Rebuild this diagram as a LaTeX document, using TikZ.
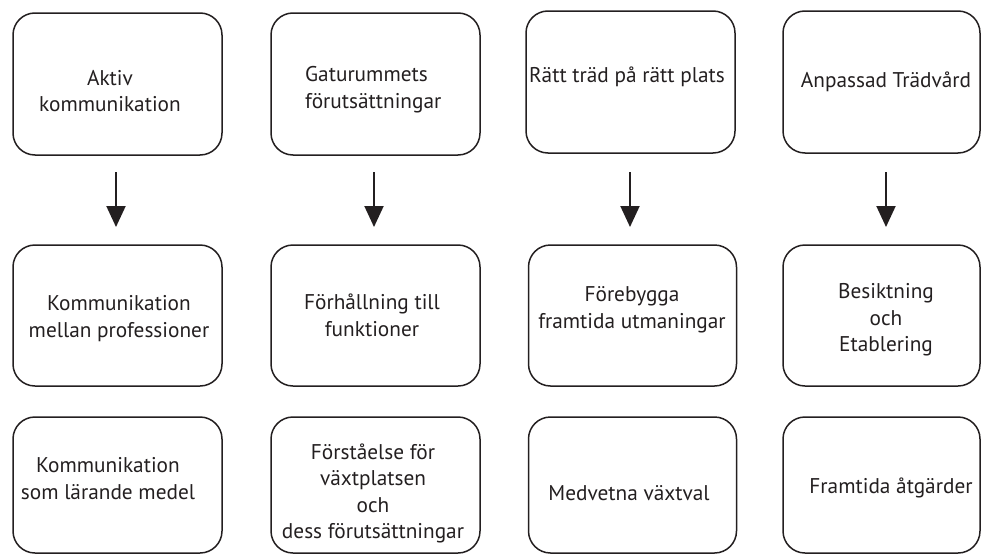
\documentclass[tikz,border=0pt]{standalone}
\usepackage{fontspec}
\setmainfont{PT Sans}
\usetikzlibrary{arrows.meta}
\definecolor{ink}{HTML}{231F20}
\tikzset{
  box/.style={draw=ink, line width=1.5pt, rounded corners=22pt, inner sep=0pt},
  lbl/.style={text=ink, align=center, font=\fontsize{21.3}{26.5}\selectfont, inner sep=0pt},
  flow/.style={draw=ink, line width=2pt, -{Triangle[length=21pt, width=19pt]}}
}
\begin{document}
\begin{tikzpicture}[x=1pt, y=-1pt]
\useasboundingbox (0,0) rectangle (982,554);
% boxes
\node[box, minimum width=209pt, minimum height=142pt] (b11) at (117.5,84) {};
\node[box, minimum width=209pt, minimum height=142pt] (b12) at (375.5,84) {};
\node[box, minimum width=209pt, minimum height=142pt] (b13) at (630.5,82) {};
\node[box, minimum width=197pt, minimum height=142pt] (b14) at (881.5,82) {};
\node[box, minimum width=209pt, minimum height=141pt] (b21) at (117.5,315.5) {};
\node[box, minimum width=209pt, minimum height=141pt] (b22) at (375.5,315.5) {};
\node[box, minimum width=208pt, minimum height=141pt] (b23) at (632.5,315.5) {};
\node[box, minimum width=197pt, minimum height=141pt] (b24) at (881.5,315.5) {};
\node[box, minimum width=209pt, minimum height=136pt] (b31) at (117.5,485) {};
\node[box, minimum width=209pt, minimum height=136pt] (b32) at (375.5,485) {};
\node[box, minimum width=208pt, minimum height=136pt] (b33) at (632.5,485) {};
\node[box, minimum width=197pt, minimum height=136pt] (b34) at (881.5,485) {};
% labels
\node[lbl] (t11) at (110,91) {Aktiv\\kommunikation};
\node[lbl, align=left, anchor=west] (t12) at (305,89.5) {Gaturummets\\förutsättningar};
\node[lbl] (t13) at (627,77) {Rätt träd på rätt plats};
\node[lbl] (t14) at (886,82) {Anpassad Trädvård};
\node[lbl] (t21) at (119,318.5) {Kommunikation\\mellan professioner};
\node[lbl] (t22) at (372,315.5) {Förhållning till\\funktioner};
\node[lbl] (t23) at (632,310) {Förebygga\\framtida utmaningar};
\node[lbl] (t24) at (886,320) {Besiktning\\och\\Etablering};
\node[lbl] (t31) at (108,478.5) {Kommunikation\\som lärande medel};
\node[lbl] (t32) at (373,493.5) {Förståelse för\\växtplatsen\\och\\dess förutsättningar};
\node[lbl] (t33) at (629,493) {Medvetna växtval};
\node[lbl] (t34) at (891,488) {Framtida åtgärder};
% arrows
\coordinate (a1s) at (116,172); \coordinate (a1e) at (116,227);
\coordinate (a2s) at (374,172); \coordinate (a2e) at (374,227);
\coordinate (a3s) at (630,172); \coordinate (a3e) at (630,227);
\coordinate (a4s) at (886,172); \coordinate (a4e) at (886,227);
\draw[flow] (a1s) -- (a1e);
\draw[flow] (a2s) -- (a2e);
\draw[flow] (a3s) -- (a3e);
\draw[flow] (a4s) -- (a4e);
\end{tikzpicture}
\end{document}
